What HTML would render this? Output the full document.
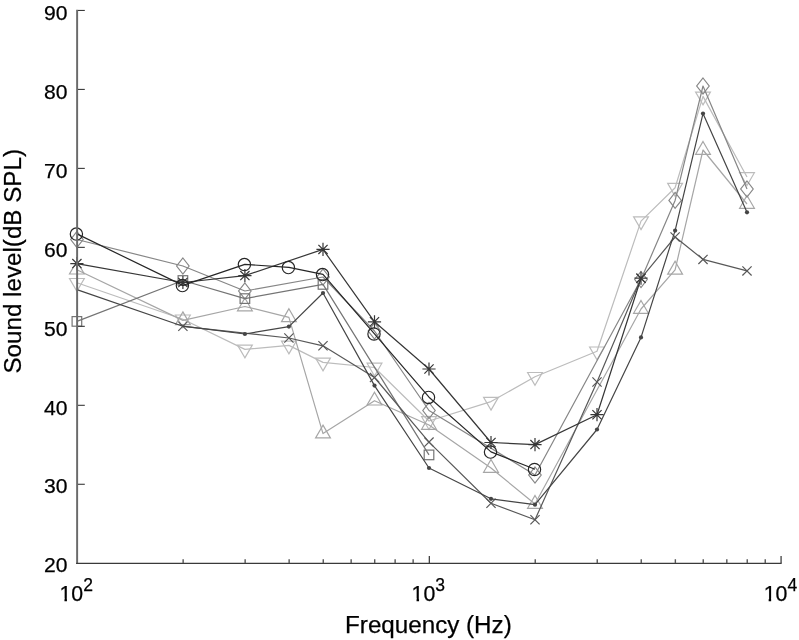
<!DOCTYPE html>
<html lang="en"><head><meta charset="utf-8"><title>Sound level vs Frequency</title>
<style>html,body{margin:0;padding:0;background:#fff}body{width:799px;height:640px;overflow:hidden}</style></head>
<body>
<svg width="799" height="640" viewBox="0 0 799 640" style="display:block">
<rect width="799" height="640" fill="#fff"/>
<g><polyline points="76.9,282.8 182.9,319.3 244.9,349.4 288.9,345.4 323.0,362.4 374.5,367.5 429.0,421.0 491.0,401.6 535.0,376.8 597.0,351.3 641.0,221.1 675.1,187.7 703.0,96.4 747.0,177.0" fill="none" stroke="#bcbcbc" stroke-width="1.2" stroke-linejoin="round"/>
<path d="M76.9 291.3L84.3 278.5L69.5 278.5Z" stroke="#bcbcbc" stroke-width="1.2" fill="none"/>
<path d="M182.9 327.8L190.3 315.0L175.5 315.0Z" stroke="#bcbcbc" stroke-width="1.2" fill="none"/>
<path d="M244.9 357.9L252.3 345.1L237.5 345.1Z" stroke="#bcbcbc" stroke-width="1.2" fill="none"/>
<path d="M288.9 353.9L296.3 341.1L281.5 341.1Z" stroke="#bcbcbc" stroke-width="1.2" fill="none"/>
<path d="M323.0 370.9L330.4 358.1L315.6 358.1Z" stroke="#bcbcbc" stroke-width="1.2" fill="none"/>
<path d="M374.5 376.0L381.9 363.2L367.1 363.2Z" stroke="#bcbcbc" stroke-width="1.2" fill="none"/>
<path d="M429.0 429.5L436.4 416.7L421.6 416.7Z" stroke="#bcbcbc" stroke-width="1.2" fill="none"/>
<path d="M491.0 410.1L498.4 397.3L483.6 397.3Z" stroke="#bcbcbc" stroke-width="1.2" fill="none"/>
<path d="M535.0 385.3L542.4 372.5L527.6 372.5Z" stroke="#bcbcbc" stroke-width="1.2" fill="none"/>
<path d="M597.0 359.8L604.4 347.0L589.6 347.0Z" stroke="#bcbcbc" stroke-width="1.2" fill="none"/>
<path d="M641.0 229.6L648.4 216.8L633.6 216.8Z" stroke="#bcbcbc" stroke-width="1.2" fill="none"/>
<path d="M675.1 196.2L682.5 183.4L667.7 183.4Z" stroke="#bcbcbc" stroke-width="1.2" fill="none"/>
<path d="M703.0 104.9L710.4 92.1L695.6 92.1Z" stroke="#bcbcbc" stroke-width="1.2" fill="none"/>
<path d="M747.0 185.5L754.4 172.7L739.6 172.7Z" stroke="#bcbcbc" stroke-width="1.2" fill="none"/>
</g>
<g><polyline points="76.9,269.7 182.9,320.4 244.9,306.5 288.9,317.3 323.0,433.6 374.5,400.7 429.0,425.0 491.0,468.0 535.0,504.0 641.0,309.0 675.1,269.8 703.0,150.0 747.0,204.0" fill="none" stroke="#a6a6a6" stroke-width="1.2" stroke-linejoin="round"/>
<path d="M76.9 261.2L84.3 274.0L69.5 274.0Z" stroke="#a6a6a6" stroke-width="1.2" fill="none"/>
<path d="M182.9 311.9L190.3 324.7L175.5 324.7Z" stroke="#a6a6a6" stroke-width="1.2" fill="none"/>
<path d="M244.9 298.0L252.3 310.8L237.5 310.8Z" stroke="#a6a6a6" stroke-width="1.2" fill="none"/>
<path d="M288.9 308.8L296.3 321.6L281.5 321.6Z" stroke="#a6a6a6" stroke-width="1.2" fill="none"/>
<path d="M323.0 425.1L330.4 437.9L315.6 437.9Z" stroke="#a6a6a6" stroke-width="1.2" fill="none"/>
<path d="M374.5 392.2L381.9 405.0L367.1 405.0Z" stroke="#a6a6a6" stroke-width="1.2" fill="none"/>
<path d="M429.0 416.5L436.4 429.3L421.6 429.3Z" stroke="#a6a6a6" stroke-width="1.2" fill="none"/>
<path d="M491.0 459.5L498.4 472.3L483.6 472.3Z" stroke="#a6a6a6" stroke-width="1.2" fill="none"/>
<path d="M535.0 495.5L542.4 508.3L527.6 508.3Z" stroke="#a6a6a6" stroke-width="1.2" fill="none"/>
<path d="M641.0 300.5L648.4 313.3L633.6 313.3Z" stroke="#a6a6a6" stroke-width="1.2" fill="none"/>
<path d="M675.1 261.3L682.5 274.1L667.7 274.1Z" stroke="#a6a6a6" stroke-width="1.2" fill="none"/>
<path d="M703.0 141.5L710.4 154.3L695.6 154.3Z" stroke="#a6a6a6" stroke-width="1.2" fill="none"/>
<path d="M747.0 195.5L754.4 208.3L739.6 208.3Z" stroke="#a6a6a6" stroke-width="1.2" fill="none"/>
</g>
<g><polyline points="76.9,239.5 182.9,266.0 244.9,291.0 323.0,277.0 374.5,331.0 429.0,410.5 535.0,475.0 641.0,279.5 675.1,200.4 703.0,86.0 747.0,189.0" fill="none" stroke="#868686" stroke-width="1.2" stroke-linejoin="round"/>
<path d="M76.9 231.5L83.2 239.5L76.9 247.5L70.7 239.5Z" stroke="#868686" stroke-width="1.2" fill="none"/>
<path d="M182.9 258.0L189.1 266.0L182.9 274.0L176.6 266.0Z" stroke="#868686" stroke-width="1.2" fill="none"/>
<path d="M244.9 283.0L251.1 291.0L244.9 299.0L238.6 291.0Z" stroke="#868686" stroke-width="1.2" fill="none"/>
<path d="M323.0 269.0L329.3 277.0L323.0 285.0L316.8 277.0Z" stroke="#868686" stroke-width="1.2" fill="none"/>
<path d="M374.5 323.0L380.7 331.0L374.5 339.0L368.2 331.0Z" stroke="#868686" stroke-width="1.2" fill="none"/>
<path d="M429.0 402.5L435.2 410.5L429.0 418.5L422.8 410.5Z" stroke="#868686" stroke-width="1.2" fill="none"/>
<path d="M535.0 467.0L541.2 475.0L535.0 483.0L528.7 475.0Z" stroke="#868686" stroke-width="1.2" fill="none"/>
<path d="M641.0 271.5L647.2 279.5L641.0 287.5L634.7 279.5Z" stroke="#868686" stroke-width="1.2" fill="none"/>
<path d="M675.1 192.4L681.4 200.4L675.1 208.4L668.9 200.4Z" stroke="#868686" stroke-width="1.2" fill="none"/>
<path d="M703.0 78.0L709.2 86.0L703.0 94.0L696.7 86.0Z" stroke="#868686" stroke-width="1.2" fill="none"/>
<path d="M747.0 181.0L753.2 189.0L747.0 197.0L740.7 189.0Z" stroke="#868686" stroke-width="1.2" fill="none"/>
</g>
<g><polyline points="76.9,321.4 182.9,280.5 244.9,298.6 323.0,284.4 429.0,454.9" fill="none" stroke="#747474" stroke-width="1.2" stroke-linejoin="round"/>
<rect x="72.1" y="316.6" width="9.6" height="9.6" stroke="#747474" stroke-width="1.2" fill="none"/>
<rect x="178.1" y="275.7" width="9.6" height="9.6" stroke="#747474" stroke-width="1.2" fill="none"/>
<rect x="240.1" y="293.8" width="9.6" height="9.6" stroke="#747474" stroke-width="1.2" fill="none"/>
<rect x="318.2" y="279.6" width="9.6" height="9.6" stroke="#747474" stroke-width="1.2" fill="none"/>
<rect x="424.2" y="450.1" width="9.6" height="9.6" stroke="#747474" stroke-width="1.2" fill="none"/>
</g>
<g><polyline points="182.9,326.3 288.9,338.0 323.0,345.8 374.5,377.5 429.0,442.1 491.0,503.3 535.0,519.7 597.0,382.0 641.0,278.3 675.1,237.0 703.0,259.4 747.0,270.9" fill="none" stroke="#585858" stroke-width="1.2" stroke-linejoin="round"/>
<path d="M178.3 321.7L187.5 330.9M178.3 330.9L187.5 321.7" stroke="#585858" stroke-width="1.2" fill="none"/>
<path d="M284.3 333.4L293.5 342.6M284.3 342.6L293.5 333.4" stroke="#585858" stroke-width="1.2" fill="none"/>
<path d="M318.4 341.2L327.6 350.4M318.4 350.4L327.6 341.2" stroke="#585858" stroke-width="1.2" fill="none"/>
<path d="M369.9 372.9L379.1 382.1M369.9 382.1L379.1 372.9" stroke="#585858" stroke-width="1.2" fill="none"/>
<path d="M424.4 437.5L433.6 446.7M424.4 446.7L433.6 437.5" stroke="#585858" stroke-width="1.2" fill="none"/>
<path d="M486.4 498.7L495.6 507.9M486.4 507.9L495.6 498.7" stroke="#585858" stroke-width="1.2" fill="none"/>
<path d="M530.4 515.1L539.6 524.3M530.4 524.3L539.6 515.1" stroke="#585858" stroke-width="1.2" fill="none"/>
<path d="M592.4 377.4L601.6 386.6M592.4 386.6L601.6 377.4" stroke="#585858" stroke-width="1.2" fill="none"/>
<path d="M636.4 273.7L645.6 282.9M636.4 282.9L645.6 273.7" stroke="#585858" stroke-width="1.2" fill="none"/>
<path d="M670.5 232.4L679.7 241.6M670.5 241.6L679.7 232.4" stroke="#585858" stroke-width="1.2" fill="none"/>
<path d="M698.4 254.8L707.6 264.0M698.4 264.0L707.6 254.8" stroke="#585858" stroke-width="1.2" fill="none"/>
<path d="M742.4 266.3L751.6 275.5M742.4 275.5L751.6 266.3" stroke="#585858" stroke-width="1.2" fill="none"/>
</g>
<g><polyline points="76.9,289.6 182.9,326.2 244.9,334.0 288.9,326.6 323.0,293.0 374.5,385.6 429.0,468.0 491.0,498.8 535.0,504.7 597.0,429.5 641.0,337.4 675.1,230.6 703.0,113.6 747.0,212.3" fill="none" stroke="#454545" stroke-width="1.2" stroke-linejoin="round"/>
<circle cx="244.9" cy="334.0" r="2.1" fill="#454545"/>
<circle cx="288.9" cy="326.6" r="2.1" fill="#454545"/>
<circle cx="323.0" cy="293.0" r="2.1" fill="#454545"/>
<circle cx="374.5" cy="385.6" r="2.1" fill="#454545"/>
<circle cx="429.0" cy="468.0" r="2.1" fill="#454545"/>
<circle cx="491.0" cy="498.8" r="2.1" fill="#454545"/>
<circle cx="535.0" cy="504.7" r="2.1" fill="#454545"/>
<circle cx="597.0" cy="429.5" r="2.1" fill="#454545"/>
<circle cx="641.0" cy="337.4" r="2.1" fill="#454545"/>
<circle cx="675.1" cy="230.6" r="2.1" fill="#454545"/>
<circle cx="703.0" cy="113.6" r="2.1" fill="#454545"/>
<circle cx="747.0" cy="212.3" r="2.1" fill="#454545"/>
</g>
<g><polyline points="76.9,263.6 182.9,282.5 244.9,275.6 323.0,249.4 374.5,321.8 429.0,369.0 491.0,442.5 535.0,444.6 597.0,414.7 641.0,278.2" fill="none" stroke="#363636" stroke-width="1.2" stroke-linejoin="round"/>
<path d="M70.3 263.6L83.5 263.6M76.9 257.0L76.9 270.2M72.3 259.0L81.5 268.2M72.3 268.2L81.5 259.0" stroke="#363636" stroke-width="1.2" fill="none"/>
<path d="M176.3 282.5L189.5 282.5M182.9 275.9L182.9 289.1M178.3 277.9L187.5 287.1M178.3 287.1L187.5 277.9" stroke="#363636" stroke-width="1.2" fill="none"/>
<path d="M238.3 275.6L251.5 275.6M244.9 269.0L244.9 282.2M240.3 271.0L249.5 280.2M240.3 280.2L249.5 271.0" stroke="#363636" stroke-width="1.2" fill="none"/>
<path d="M316.4 249.4L329.6 249.4M323.0 242.8L323.0 256.0M318.4 244.8L327.6 254.0M318.4 254.0L327.6 244.8" stroke="#363636" stroke-width="1.2" fill="none"/>
<path d="M367.9 321.8L381.1 321.8M374.5 315.2L374.5 328.4M369.9 317.2L379.1 326.4M369.9 326.4L379.1 317.2" stroke="#363636" stroke-width="1.2" fill="none"/>
<path d="M422.4 369.0L435.6 369.0M429.0 362.4L429.0 375.6M424.4 364.4L433.6 373.6M424.4 373.6L433.6 364.4" stroke="#363636" stroke-width="1.2" fill="none"/>
<path d="M484.4 442.5L497.6 442.5M491.0 435.9L491.0 449.1M486.4 437.9L495.6 447.1M486.4 447.1L495.6 437.9" stroke="#363636" stroke-width="1.2" fill="none"/>
<path d="M528.4 444.6L541.6 444.6M535.0 438.0L535.0 451.2M530.4 440.0L539.6 449.2M530.4 449.2L539.6 440.0" stroke="#363636" stroke-width="1.2" fill="none"/>
<path d="M590.4 414.7L603.6 414.7M597.0 408.1L597.0 421.3M592.4 410.1L601.6 419.3M592.4 419.3L601.6 410.1" stroke="#363636" stroke-width="1.2" fill="none"/>
<path d="M634.4 278.2L647.6 278.2M641.0 271.6L641.0 284.8M636.4 273.6L645.6 282.8M636.4 282.8L645.6 273.6" stroke="#363636" stroke-width="1.2" fill="none"/>
</g>
<g><polyline points="76.9,233.9 182.9,285.4 244.9,264.4 288.9,267.4 323.0,274.4 374.5,333.8 429.0,397.2 491.0,451.9 535.0,469.3" fill="none" stroke="#262626" stroke-width="1.2" stroke-linejoin="round"/>
<circle cx="76.4" cy="234.1" r="6.15" stroke="#262626" stroke-width="1.2" fill="none"/>
<circle cx="182.4" cy="285.6" r="6.15" stroke="#262626" stroke-width="1.2" fill="none"/>
<circle cx="244.4" cy="264.6" r="6.15" stroke="#262626" stroke-width="1.2" fill="none"/>
<circle cx="288.4" cy="267.6" r="6.15" stroke="#262626" stroke-width="1.2" fill="none"/>
<circle cx="322.5" cy="274.6" r="6.15" stroke="#262626" stroke-width="1.2" fill="none"/>
<circle cx="374.0" cy="334.0" r="6.15" stroke="#262626" stroke-width="1.2" fill="none"/>
<circle cx="428.5" cy="397.4" r="6.15" stroke="#262626" stroke-width="1.2" fill="none"/>
<circle cx="490.5" cy="452.1" r="6.15" stroke="#262626" stroke-width="1.2" fill="none"/>
<circle cx="534.5" cy="469.5" r="6.15" stroke="#262626" stroke-width="1.2" fill="none"/>
</g>
<rect x="76.15" y="9.75" width="1.95" height="554.25" fill="#6a6a6a"/>
<rect x="76.15" y="562.75" width="705.55" height="1.25" fill="#3a3a3a"/>
<rect x="78.0" y="483.73" width="6.8" height="1.1" fill="#3a3a3a"/>
<rect x="78.0" y="404.76" width="6.8" height="1.1" fill="#3a3a3a"/>
<rect x="78.0" y="325.79" width="6.8" height="1.1" fill="#3a3a3a"/>
<rect x="78.0" y="246.81" width="6.8" height="1.1" fill="#3a3a3a"/>
<rect x="78.0" y="167.84" width="6.8" height="1.1" fill="#3a3a3a"/>
<rect x="78.0" y="88.87" width="6.8" height="1.1" fill="#3a3a3a"/>
<rect x="78.0" y="9.90" width="6.8" height="1.1" fill="#3a3a3a"/>
<rect x="182.44" y="559.25" width="1.4" height="3.8" fill="#555"/>
<rect x="244.44" y="559.25" width="1.4" height="3.8" fill="#555"/>
<rect x="288.44" y="559.25" width="1.4" height="3.8" fill="#555"/>
<rect x="322.56" y="559.25" width="1.4" height="3.8" fill="#555"/>
<rect x="350.44" y="559.25" width="1.4" height="3.8" fill="#555"/>
<rect x="374.01" y="559.25" width="1.4" height="3.8" fill="#555"/>
<rect x="394.43" y="559.25" width="1.4" height="3.8" fill="#555"/>
<rect x="412.44" y="559.25" width="1.4" height="3.8" fill="#555"/>
<rect x="428.70" y="556" width="1.25" height="7" fill="#3a3a3a"/>
<rect x="534.54" y="559.25" width="1.4" height="3.8" fill="#555"/>
<rect x="596.54" y="559.25" width="1.4" height="3.8" fill="#555"/>
<rect x="640.54" y="559.25" width="1.4" height="3.8" fill="#555"/>
<rect x="674.66" y="559.25" width="1.4" height="3.8" fill="#555"/>
<rect x="702.54" y="559.25" width="1.4" height="3.8" fill="#555"/>
<rect x="726.11" y="559.25" width="1.4" height="3.8" fill="#555"/>
<rect x="746.53" y="559.25" width="1.4" height="3.8" fill="#555"/>
<rect x="764.54" y="559.25" width="1.4" height="3.8" fill="#555"/>
<rect x="780.45" y="556" width="1.25" height="7" fill="#3a3a3a"/>
<g font-family="'Liberation Sans', Arial, Helvetica, sans-serif" fill="#000" stroke="#000" stroke-width="0.25">
<text x="67.5" y="572.4" font-size="21.1" text-anchor="end">20</text>
<text x="67.5" y="493.4" font-size="21.1" text-anchor="end">30</text>
<text x="67.5" y="414.5" font-size="21.1" text-anchor="end">40</text>
<text x="67.5" y="335.5" font-size="21.1" text-anchor="end">50</text>
<text x="67.5" y="256.5" font-size="21.1" text-anchor="end">60</text>
<text x="67.5" y="177.5" font-size="21.1" text-anchor="end">70</text>
<text x="67.5" y="98.6" font-size="21.1" text-anchor="end">80</text>
<text x="67.5" y="19.6" font-size="21.1" text-anchor="end">90</text>
<text x="59.5" y="600.8" font-size="21.3">10<tspan font-size="17.5" dy="-10.2" dx="0">2</tspan></text>
<text x="411.6" y="600.8" font-size="21.3">10<tspan font-size="17.5" dy="-10.2" dx="0">3</tspan></text>
<text x="763.7" y="600.8" font-size="21.3">10<tspan font-size="17.5" dy="-10.2" dx="0">4</tspan></text>
<text x="428.4" y="633.4" font-size="24.2" text-anchor="middle">Frequency (Hz)</text>
<text transform="translate(20.9 261.3) rotate(-90)" font-size="24.2" text-anchor="middle">Sound level(dB SPL)</text>
</g>
<g fill="#fff"><rect x="60.30" y="598.4" width="4.15" height="3.8"/><rect x="66.95" y="598.4" width="4.6" height="3.8"/><rect x="412.40" y="598.4" width="4.15" height="3.8"/><rect x="419.05" y="598.4" width="4.6" height="3.8"/><rect x="764.50" y="598.4" width="4.15" height="3.8"/><rect x="771.15" y="598.4" width="4.6" height="3.8"/></g>
</svg>
</body></html>
